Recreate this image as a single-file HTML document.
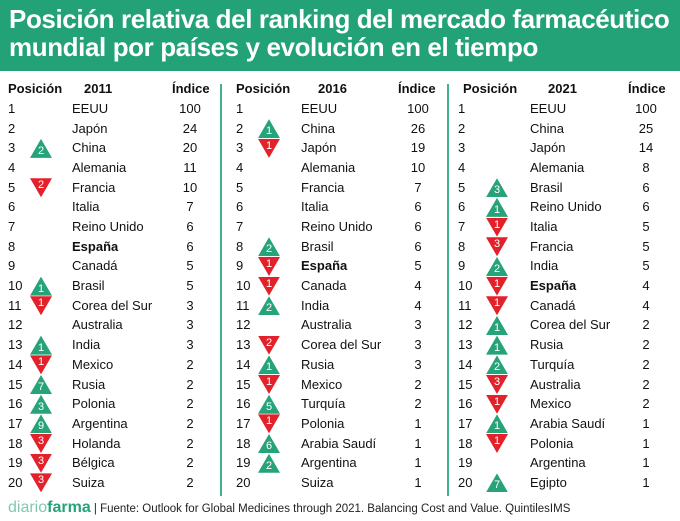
<!DOCTYPE html>
<html><head><meta charset="utf-8"><style>
*{margin:0;padding:0;box-sizing:border-box}
body{width:680px;height:521px;background:#fff;font-family:"Liberation Sans",sans-serif;color:#111;position:relative;overflow:hidden}
.hd{position:absolute;left:0;top:0;width:680px;height:71px;background:#22a276;color:#fff;font-weight:bold;font-size:26px;line-height:28px;padding:5px 0 0 9px;letter-spacing:-0.4px;white-space:nowrap}
.vl{position:absolute;top:84px;height:412px;width:2px;background:#3fb38a}
.r{position:absolute;height:20px;line-height:20px;font-size:13px;width:220px}
.r span{position:absolute;top:0}
.t{position:absolute;width:22px;height:19px;color:#fff;font-size:11px;text-align:center}
.u{background:#27a37a;clip-path:polygon(50% 0,100% 100%,0 100%);line-height:24px}
.d{background:#e3212b;clip-path:polygon(0 0,100% 0,50% 100%);line-height:14px}
.ft{position:absolute;left:8px;top:500px;font-size:11.5px;color:#222;line-height:16px}
.ft b{color:#27a37a;font-size:16px}
.ft i{font-style:normal;color:#7fc9ad;font-size:16px}
</style></head><body>
<div class="hd">Posición relativa del ranking del mercado farmacéutico<br>mundial por países y evolución en el tiempo</div>
<div class="vl" style="left:220px"></div>
<div class="vl" style="left:447px"></div>
<div class="ft"><i>diario</i><b>farma</b> | Fuente: Outlook for Global Medicines through 2021. Balancing Cost and Value. QuintilesIMS</div>
<div style="position:absolute;left:8px;top:80px;font-size:13px;font-weight:bold;line-height:18px">
<span style="position:absolute;left:0">Posición</span><span style="position:absolute;left:76px">2011</span><span style="position:absolute;left:164px">Índice</span>
<span style="position:absolute;left:228px">Posición</span><span style="position:absolute;left:310px">2016</span><span style="position:absolute;left:390px">Índice</span>
<span style="position:absolute;left:455px">Posición</span><span style="position:absolute;left:540px">2021</span><span style="position:absolute;left:620px">Índice</span>
</div>
<div id="rows"></div>
<script>
var D=[
[[,'EEUU',100],[,'Japón',24],['u2','China',20],[,'Alemania',11],['d2','Francia',10],[,'Italia',7],[,'Reino Unido',6],[,'<b>España</b>',6],[,'Canadá',5],['u1','Brasil',5],['d1','Corea del Sur',3],[,'Australia',3],['u1','India',3],['d1','Mexico',2],['u7','Rusia',2],['u3','Polonia',2],['u9','Argentina',2],['d3','Holanda',2],['d3','Bélgica',2],['d3','Suiza',2]],
[[,'EEUU',100],['u1','China',26],['d1','Japón',19],[,'Alemania',10],[,'Francia',7],[,'Italia',6],[,'Reino Unido',6],['u2','Brasil',6],['d1','<b>España</b>',5],['d1','Canada',4],['u2','India',4],[,'Australia',3],['d2','Corea del Sur',3],['u1','Rusia',3],['d1','Mexico',2],['u5','Turquía',2],['d1','Polonia',1],['u6','Arabia Saudí',1],['u2','Argentina',1],[,'Suiza',1]],
[[,'EEUU',100],[,'China',25],[,'Japón',14],[,'Alemania',8],['u3','Brasil',6],['u1','Reino Unido',6],['d1','Italia',5],['d3','Francia',5],['u2','India',5],['d1','<b>España</b>',4],['d1','Canadá',4],['u1','Corea del Sur',2],['u1','Rusia',2],['u2','Turquía',2],['d3','Australia',2],['d1','Mexico',2],['u1','Arabia Saudí',1],['d1','Polonia',1],[,'Argentina',1],['u7','Egipto',1]]];
var X=[[8,30,72,190],[236,258,301,418],[458,486,530,646]],h='';
D.forEach(function(col,ci){var x=X[ci];col.forEach(function(r,i){var y=99+i*19.68;
h+='<div class="r" style="top:'+y+'px;left:0;width:680px"><span style="left:'+x[0]+'px">'+(i+1)+'</span>';
if(r[0])h+='<span class="t '+r[0][0]+'" style="left:'+x[1]+'px;top:0.5px">'+r[0][1]+'</span>';
h+='<span style="left:'+x[2]+'px">'+r[1]+'</span><span style="left:'+(x[3]-30)+'px;width:60px;text-align:center">'+r[2]+'</span></div>';});});
document.getElementById('rows').innerHTML=h;
</script>
</body></html>
